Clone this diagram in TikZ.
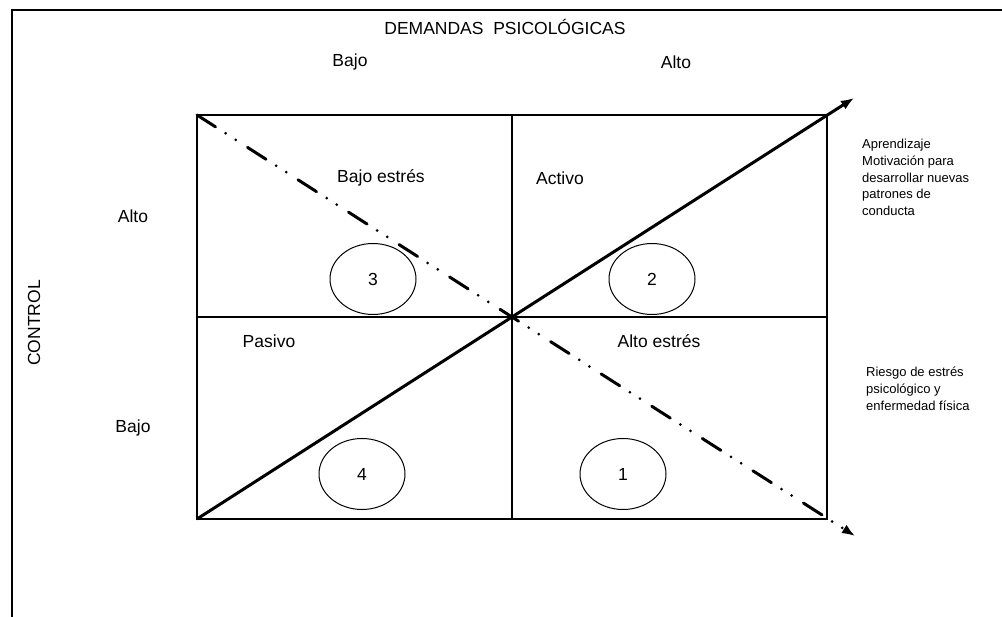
\documentclass[tikz,border=0pt]{standalone}
\usepackage{fontspec}
\setmainfont{Liberation Sans}
\usetikzlibrary{shapes.geometric,arrows.meta}
\begin{document}
\begin{tikzpicture}[x=1pt,y=-1pt,
  lbl/.style={font=\fontsize{17.5}{20}\selectfont, inner sep=0pt},
  note/.style={font=\fontsize{13}{16.7}\selectfont, align=left, inner sep=0pt, anchor=north west},
  oval/.style={draw, ellipse, line width=1pt, minimum width=86pt, minimum height=71pt, font=\fontsize{17.5}{20}\selectfont, inner sep=0pt},
  gridline/.style={line width=1.3pt},
  frameline/.style={line width=1.5pt},
  diag/.style={line width=3pt},
  tip/.style={-{Latex[length=13pt,width=10pt]}},
  dashdot/.style={line width=3pt, line cap=round, dash pattern=on 22pt off 12pt on 0pt off 12pt on 0pt off 14pt}
]
\useasboundingbox (0,0) rectangle (1002,617);
% frame
\coordinate (f1) at (12,618);
\coordinate (f2) at (12,10);
\coordinate (f3) at (1003,10);
\draw[frameline] (f1) -- (f2) -- (f3);
% grid
\coordinate (TL) at (197,115);
\coordinate (TR) at (827,115);
\coordinate (BL) at (197,519);
\coordinate (BR) at (827,519);
\coordinate (TM) at (512,115);
\coordinate (BM) at (512,519);
\coordinate (LM) at (197,317);
\coordinate (RM) at (827,317);
\coordinate (C) at (512,317);
\coordinate (endA) at (854,98);
\coordinate (endB) at (855,536);
\draw[gridline] (TL) rectangle (BR);
\draw[gridline] (TM) -- (BM);
\draw[gridline] (LM) -- (RM);
% diagonals
\draw[diag, tip] (BL) -- (C) -- (endA);
\draw[dashdot, tip] (TL) -- (C) -- (endB);
% ellipses
\node[oval] (e3) at (373,279) {3};
\node[oval] (e2) at (652,279) {2};
\node[oval] (e4) at (362,474) {4};
\node[oval] (e1) at (623,474) {1};
% labels
\node[lbl] (title) at (505,27) {DEMANDAS\ \ PSICOLÓGICAS};
\node[lbl] (dlow) at (350,62) {Bajo};
\node[lbl] (dhigh) at (676,62) {Alto};
\node[lbl] (chigh) at (133,216) {Alto};
\node[lbl] (clow) at (133,428) {Bajo};
\node[lbl, rotate=90] (ctrl) at (34,323) {CONTROL};
\node[lbl] (q3) at (381,178) {Bajo estrés};
\node[lbl] (q2) at (560,178) {Activo};
\node[lbl] (q4) at (269,341) {Pasivo};
\node[lbl] (q1) at (659,341) {Alto estrés};
\node[note] (n1) at (862,139) {Aprendizaje\\Motivación para\\desarrollar nuevas\\patrones de\\conducta};
\node[note] (n2) at (866,367) {Riesgo de estrés\\psicológico y\\enfermedad física};
\end{tikzpicture}
\end{document}
